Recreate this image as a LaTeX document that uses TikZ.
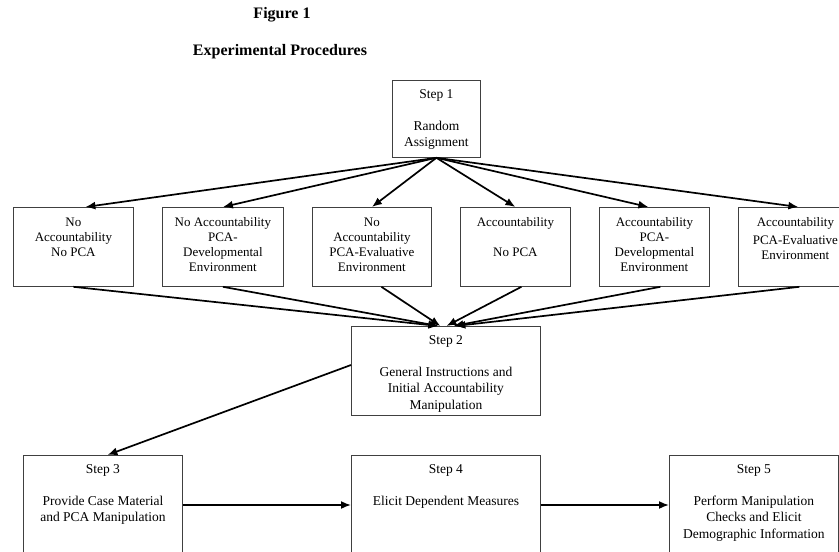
\documentclass[tikz,border=0pt]{standalone}
\usepackage{fontspec}
\setmainfont{Liberation Serif}
\usetikzlibrary{arrows.meta}

\newcommand{\boxbody}[3]{\parbox[t][#2][t]{#1}{\centering #3}}

\begin{document}
\begin{tikzpicture}[x=1pt, y=-1pt,
    stepbox/.style={draw=black!75, line width=0.8pt, inner xsep=0pt, inner ysep=9pt,
      anchor=north west, font=\fontsize{13.5}{16.3}\selectfont},
    condbox/.style={stepbox, inner ysep=10.5pt, font=\fontsize{13}{15}\selectfont},
    flow/.style={-{Latex[length=10pt,width=8pt]}, line width=1.7pt},
    title/.style={font=\fontsize{16}{19}\selectfont\bfseries}]
  \useasboundingbox (0,0) rectangle (839,552);
  \clip (0,0) rectangle (839,552);

  % titles
  \node[title] (fig) at (282,15) {Figure 1};
  \node[title] (proc) at (280,52) {Experimental Procedures};

  % step 1
  \node[stepbox] (s1) at (392,80) {\boxbody{88pt}{59pt}{Step 1\\[16pt]Random\\Assignment}};

  % the six conditions
  \node[condbox] (c1) at (13,207) {\boxbody{120pt}{58pt}{No\\Accountability\\No PCA}};
  \node[condbox] (c2) at (162,207) {\boxbody{121pt}{58pt}{No Accountability\\PCA-\\Developmental\\Environment}};
  \node[condbox] (c3) at (312,207) {\boxbody{119pt}{58pt}{No\\Accountability\\PCA-Evaluative\\Environment}};
  \node[condbox] (c4) at (460,207) {\boxbody{110pt}{58pt}{Accountability\\[15pt]No PCA}};
  \node[condbox] (c5) at (599,207) {\boxbody{110pt}{58pt}{Accountability\\PCA-\\Developmental\\Environment}};
  \node[condbox] (c6) at (738,207) {\boxbody{114pt}{58pt}{Accountability\\[3pt]PCA-Evaluative\\Environment}};

  % steps 2 to 5
  \node[stepbox] (s2) at (351,326) {\boxbody{189pt}{71pt}{Step 2\\[16pt]General Instructions and\\Initial Accountability\\Manipulation}};
  \node[stepbox] (s3) at (23,455) {\boxbody{159pt}{102pt}{Step 3\\[16pt]Provide Case Material\\and PCA Manipulation}};
  \node[stepbox] (s4) at (351,455) {\boxbody{189pt}{102pt}{Step 4\\[16pt]Elicit Dependent Measures}};
  \node[stepbox] (s5) at (669,455) {\boxbody{169pt}{102pt}{Step 5\\[16pt]Perform Manipulation\\Checks and Elicit\\Demographic Information}};

  % arrows
  \foreach \n/\a/\b/\c in {1/12/0/-7.5, 2/0/0/-7.5, 3/0/9.5/-5.5, 4/0/6/0.5, 5/-6/6/7.5, 6/3/4/9.5}{
    \draw[flow] (s1.south) -- ([xshift=\a pt]c\n.north);
    \draw[flow] ([xshift=\b pt]c\n.south) -- ([xshift=\c pt]s2.north);
  }
  \draw[flow] ([yshift=-39pt]s2.north west) -- ([xshift=4.5pt]s3.north);
  \draw[flow] ([yshift=-50pt]s3.north east) -- ([yshift=-50pt]s4.north west);
  \draw[flow] ([yshift=-50pt]s4.north east) -- ([yshift=-50pt]s5.north west);
\end{tikzpicture}
\end{document}
